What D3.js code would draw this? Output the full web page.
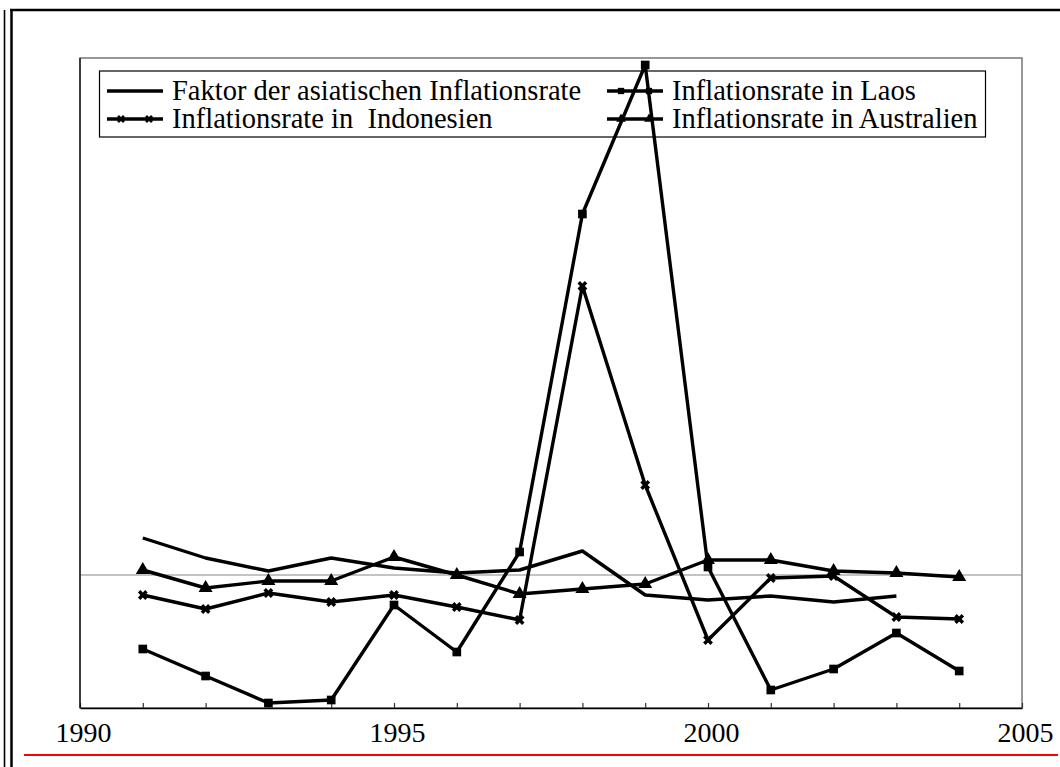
<html lang="de">
<head>
    <meta charset="UTF-8">
    <title>Inflationsraten</title>
    <script src="https://cdn.jsdelivr.net/npm/d3@7"></script>
    <style>
        body { margin: 0; background: #fff; }
        text { font-family: "Liberation Serif", "Times New Roman", serif; fill: #000; }
    </style>
</head>
<body>
    <script>
        // years on the x axis
        var years = [1991, 1992, 1993, 1994, 1995, 1996, 1997, 1998, 1999, 2000, 2001, 2002, 2003, 2004];
        var tickYears = d3.range(1990, 2006);
        var labelYears = [1990, 1995, 2000, 2005];

        // series values (no y scale printed)
        var faktor = [0.74, 0.34, 0.08, 0.34, 0.14, 0.04, 0.10, 0.48, -0.40, -0.50, -0.42, -0.54, -0.42];
        var laos = [-1.48, -2.02, -2.56, -2.50, -0.60, -1.54, 0.46, 7.22, 10.20, 0.16, -2.30, -1.88, -1.16, -1.92];
        var indonesien = [-0.40, -0.68, -0.36, -0.54, -0.40, -0.64, -0.90, 5.78, 1.80, -1.30, -0.06, -0.02, -0.84, -0.88];
        var australien = [0.10, -0.26, -0.12, -0.12, 0.36, 0.00, -0.38, -0.28, -0.18, 0.30, 0.30, 0.08, 0.04, -0.04];

        var labels = ["Faktor der asiatischen Inflationsrate", "Inflationsrate in Laos",
                      "Inflationsrate in  Indonesien", "Inflationsrate in Australien"];

        var series = [
            {name: labels[0], values: faktor, symbol: null},
            {name: labels[1], values: laos, symbol: "square"},
            {name: labels[2], values: indonesien, symbol: "x"},
            {name: labels[3], values: australien, symbol: "triangle"}
        ];

        var width = 1060, height = 767;
        var mLeft = 80, mRight = 1022, mTop = 58, mBottom = 708;

        var x = d3.scaleLinear().domain([1990, 2005]).range([mLeft, mRight]);
        var y = d3.scaleLinear().domain([-2.66, 10.34]).range([mBottom, mTop]);

        var svg = d3.select("body").append("svg")
            .attr("width", width)
            .attr("height", height);

        // outer frame: double line on the left, one on top, red rule at the bottom
        svg.append("line").attr("x1", 4.5).attr("x2", 4.5).attr("y1", 10).attr("y2", height)
            .attr("stroke", "#000").attr("stroke-width", 1.6);
        svg.append("line").attr("x1", 11.5).attr("x2", 11.5).attr("y1", 9).attr("y2", height)
            .attr("stroke", "#000").attr("stroke-width", 2.5);
        svg.append("line").attr("x1", 10).attr("x2", width).attr("y1", 10).attr("y2", 10)
            .attr("stroke", "#000").attr("stroke-width", 2.5);
        svg.append("line").attr("x1", 24).attr("x2", 1058).attr("y1", 755).attr("y2", 755)
            .attr("stroke", "#f00").attr("stroke-width", 2);

        // plot frame
        svg.append("rect")
            .attr("x", mLeft).attr("y", mTop)
            .attr("width", mRight - mLeft).attr("height", mBottom - mTop)
            .attr("fill", "none").attr("stroke", "#777").attr("stroke-width", 1.5);

        // zero line
        svg.append("line")
            .attr("x1", mLeft).attr("x2", mRight)
            .attr("y1", y(0)).attr("y2", y(0))
            .attr("stroke", "#888").attr("stroke-width", 1.2);

        // x axis, ticks pointing inward
        var xAxis = d3.axisBottom(x)
            .tickValues(tickYears)
            .tickSize(-5)
            .tickSizeOuter(0)
            .tickFormat(d => labelYears.indexOf(d) >= 0 ? d : "");

        var ax = svg.append("g")
            .attr("transform", "translate(0," + mBottom + ")")
            .call(xAxis);
        ax.select(".domain").attr("stroke", "#000").attr("stroke-width", 1.5);
        ax.selectAll(".tick line").attr("stroke", "#333").attr("stroke-width", 1.2);
        ax.selectAll(".tick text")
            .attr("x", 3)
            .attr("y", 34).attr("dy", null)
            .style("font-family", "'Liberation Serif', serif")
            .style("font-size", "28px");

        // left edge of the plot in black
        svg.append("line").attr("x1", mLeft).attr("x2", mLeft).attr("y1", mTop).attr("y2", mBottom)
            .attr("stroke", "#000").attr("stroke-width", 1.2);

        function symbolPath(kind, size) {
            if (kind == "square") return d3.symbol(d3.symbolSquare, size)();
            if (kind == "triangle") return d3.symbol(d3.symbolTriangle, size)();
            return d3.symbol(d3.symbolCross, size)();
        }

        // legend, drawn beneath the series (the lines run through it)
        var legend = svg.append("g");
        legend.append("rect")
            .attr("x", 99.5).attr("y", 71)
            .attr("width", 886).attr("height", 66)
            .attr("fill", "#fff").attr("stroke", "#000").attr("stroke-width", 1.2);

        var legendPos = [[107, 91], [607, 91], [107, 119], [607, 119]];

        var items = legend.selectAll("g.item")
            .data(series)
            .enter()
            .append("g")
            .attr("class", "item")
            .attr("transform", (d, i) => "translate(" + legendPos[i][0] + "," + legendPos[i][1] + ")");

        items.append("line")
            .attr("x1", 0).attr("x2", 56)
            .attr("stroke", "#000").attr("stroke-width", 3.4);

        items.each(function(s) {
            if (!s.symbol) return;
            d3.select(this).selectAll("path")
                .data([14, 42])
                .enter()
                .append("path")
                .attr("d", symbolPath(s.symbol, 40))
                .attr("transform", d => "translate(" + d + ",0)" + (s.symbol == "x" ? " rotate(45)" : ""))
                .attr("fill", "#000");
        });

        items.append("text")
            .attr("x", 65)
            .attr("y", 9)
            .style("font-size", "28.5px")
            .style("white-space", "pre")
            .text(d => d.name);

        // series
        var line = d3.line()
            .x((d, i) => x(years[i]))
            .y(d => y(d));

        var g = svg.selectAll("g.series")
            .data(series)
            .enter()
            .append("g")
            .attr("class", "series");

        g.append("path")
            .attr("d", d => line(d.values))
            .attr("fill", "none")
            .attr("stroke", "#000")
            .attr("stroke-width", 3.4)
            .attr("stroke-linejoin", "round");

        g.each(function(s) {
            if (!s.symbol) return;
            var size = s.symbol == "square" ? 75 : s.symbol == "triangle" ? 85 : 60;
            d3.select(this).selectAll("path.mark")
                .data(s.values)
                .enter()
                .append("path")
                .attr("class", "mark")
                .attr("d", symbolPath(s.symbol, size))
                .attr("transform", (d, i) => "translate(" + x(years[i]) + "," + y(d) + ")" +
                    (s.symbol == "x" ? " rotate(45)" : ""))
                .attr("fill", "#000");
        });
    </script>
</body>
</html>
